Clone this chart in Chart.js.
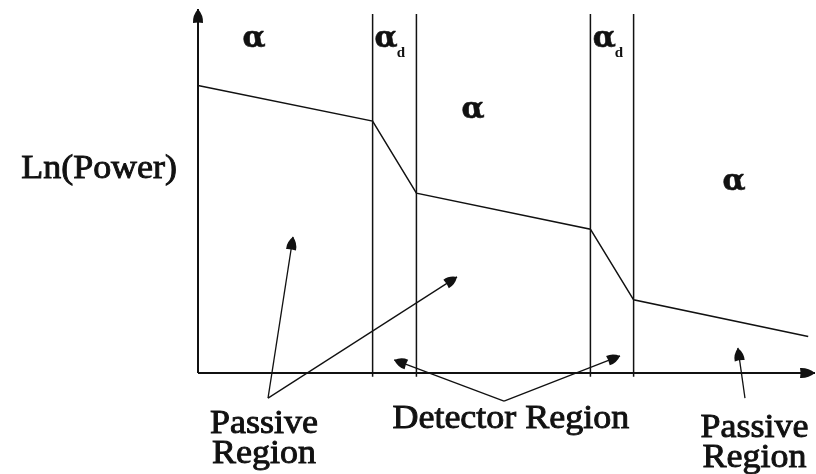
<!DOCTYPE html>
<html>
<head>
<meta charset="utf-8">
<script src="https://cdn.jsdelivr.net/npm/chart.js@4/dist/chart.umd.min.js"></script>
<style>
  html, body { margin: 0; padding: 0; background: #fff; }
  #wrap { width: 816px; height: 474px; }
</style>
</head>
<body>
<div id="wrap"><canvas id="c" width="816" height="474"></canvas></div>
<script>
// Distance along the waveguide (arbitrary units) and the guided power (log scale)
const positions = [0, 28.3, 35.4, 63.6, 70.6, 98.9];
const lnPower   = [79.0, 69.2, 49.4, 39.5, 20.1, 10.0];

// Edges of the two detector sections
const boundaries = [28.3, 35.4, 63.6, 70.6];
const boundaryTop = 98.6;
const boundaryBottom = -1;

// Axis extents
const xAxisEnd = 100;
const yAxisEnd = 100;

// Pointer arrows for the region captions: [from, to]
const pointers = [
  [[11.35, -6.9], [15.4, 37.4]],
  [[11.35, -6.9], [41.98, 26.4]],
  [[49.6, -7.7], [31.8, 3.6]],
  [[49.6, -7.7], [68.4, 4.7]],
  [[88.65, -6.9], [87.5, 6.9]]
];

// Attenuation labels: text, subscript, anchor
const alphaLabels = [
  { t: 'α', sub: '',  x: 9.08,  y: 90.9 },
  { t: 'α', sub: 'd', x: 31.1,  y: 90.9 },
  { t: 'α', sub: '',  x: 44.57, y: 71.4 },
  { t: 'α', sub: 'd', x: 66.45, y: 90.9 },
  { t: 'α', sub: '',  x: 86.87, y: 51.6 }
];

// Captions below the axis
const captions = [
  { lines: ['Passive', 'Region'], x: 10.7, y: -16.5 },
  { lines: ['Detector Region'],   x: 50.7, y: -15.1 },
  { lines: ['Passive', 'Region'], x: 90.2, y: -17.6 }
];
const yTitle = { text: 'Ln(Power)', x: -3.4, y: 53.6 };

const INK = '#111';
const SERIF = '"Liberation Serif", "Times New Roman", serif';
const GREEK = '"DejaVu Serif", serif';
const STRETCH = 1.09;   // the lettering is set a little wide

function pts(arr) { return arr.map(p => ({ x: p[0], y: p[1] })); }

const datasets = [];

// Axes
datasets.push({ data: [{ x: 0, y: 0 }, { x: xAxisEnd, y: 0 }], arrowHead: { len: 15, w: 10 }, borderWidth: 2 });
datasets.push({ data: [{ x: 0, y: 0 }, { x: 0, y: yAxisEnd }], arrowHead: { len: 14, w: 10 }, borderWidth: 2 });

// Region boundaries
boundaries.forEach(b => {
  datasets.push({ data: [{ x: b, y: boundaryBottom }, { x: b, y: boundaryTop }], borderWidth: 1.5 });
});

// Power profile
datasets.push({ data: positions.map((x, i) => ({ x, y: lnPower[i] })), borderWidth: 1.5 });

// Caption pointers
pointers.forEach(p => {
  datasets.push({ data: pts(p), arrowHead: { len: 13, w: 10 }, borderWidth: 1.3 });
});

datasets.forEach(d => {
  d.showLine = true;
  d.pointRadius = 0;
  d.borderColor = INK;
  d.backgroundColor = INK;
  d.tension = 0;
  d.clip = false;
});

// bullet-shaped head: sharp tip, bulging flanks, flat back
function drawHead(ctx, x, y, ang, len, w) {
  ctx.save();
  ctx.translate(x, y);
  ctx.rotate(ang);
  ctx.beginPath();
  ctx.moveTo(0, 0);
  ctx.quadraticCurveTo(-len * 0.45, -w * 0.55, -len, -w / 2);
  ctx.quadraticCurveTo(-len * 0.92, 0, -len, w / 2);
  ctx.quadraticCurveTo(-len * 0.45, w * 0.55, 0, 0);
  ctx.closePath();
  ctx.fillStyle = INK;
  ctx.fill();
  ctx.restore();
}

// text drawn with a horizontal stretch and a light outline for weight
function wideText(ctx, t, x, y, align) {
  const w = ctx.measureText(t).width * STRETCH;
  let left = x;
  if (align === 'center') left = x - w / 2;
  else if (align === 'right') left = x - w;
  ctx.save();
  ctx.translate(left, y);
  ctx.scale(STRETCH, 1);
  ctx.textAlign = 'left';
  ctx.fillText(t, 0, 0);
  ctx.lineWidth = 0.9;
  ctx.strokeStyle = INK;
  ctx.strokeText(t, 0, 0);
  ctx.restore();
  return w;
}

const annotate = {
  id: 'annotate',
  afterDatasetsDraw(chart) {
    const ctx = chart.ctx;
    const xs = chart.scales.x, ys = chart.scales.y;
    // arrow heads at the end of flagged lines
    chart.data.datasets.forEach((ds, i) => {
      if (!ds.arrowHead) return;
      const el = chart.getDatasetMeta(i).data;
      const a = el[el.length - 2], b = el[el.length - 1];
      const ang = Math.atan2(b.y - a.y, b.x - a.x);
      drawHead(ctx, b.x, b.y, ang, ds.arrowHead.len, ds.arrowHead.w);
    });

    ctx.save();
    ctx.fillStyle = INK;
    // attenuation symbols
    alphaLabels.forEach(l => {
      const px = xs.getPixelForValue(l.x), py = ys.getPixelForValue(l.y);
      ctx.font = 'bold 30px ' + GREEK;
      const wa = ctx.measureText(l.t).width;
      ctx.font = '15px ' + SERIF;
      const ws = l.sub ? ctx.measureText(l.sub).width : 0;
      const left = px - (wa + ws) / 2;
      ctx.font = 'bold 30px ' + GREEK;
      ctx.textAlign = 'left';
      ctx.textBaseline = 'middle';
      ctx.fillText(l.t, left, py - 3);
      ctx.lineWidth = 0.6;
      ctx.strokeStyle = INK;
      ctx.strokeText(l.t, left, py - 3);
      if (l.sub) {
        ctx.font = 'bold 15px ' + SERIF;
        ctx.textBaseline = 'alphabetic';
        ctx.fillText(l.sub, left + wa - 1, py + 15);
      }
    });

    // captions
    ctx.font = '33px ' + SERIF;
    ctx.textBaseline = 'alphabetic';
    captions.forEach(c => {
      const px = xs.getPixelForValue(c.x), py = ys.getPixelForValue(c.y);
      c.lines.forEach((t, k) => wideText(ctx, t, px, py + k * 30, 'center'));
    });

    // axis title
    ctx.font = '33px ' + SERIF;
    wideText(ctx, yTitle.text, xs.getPixelForValue(yTitle.x), ys.getPixelForValue(yTitle.y), 'right');
    ctx.restore();
  }
};

new Chart(document.getElementById('c'), {
  type: 'scatter',
  data: { datasets },
  options: {
    responsive: false,
    devicePixelRatio: 1,
    animation: false,
    layout: { padding: { left: 198, right: 1, top: 9, bottom: 101 } },
    plugins: { legend: { display: false }, tooltip: { enabled: false } },
    scales: {
      x: { type: 'linear', min: 0, max: 100, display: false },
      y: { type: 'linear', min: 0, max: 100, display: false }
    }
  },
  plugins: [annotate]
});
</script>
</body>
</html>
